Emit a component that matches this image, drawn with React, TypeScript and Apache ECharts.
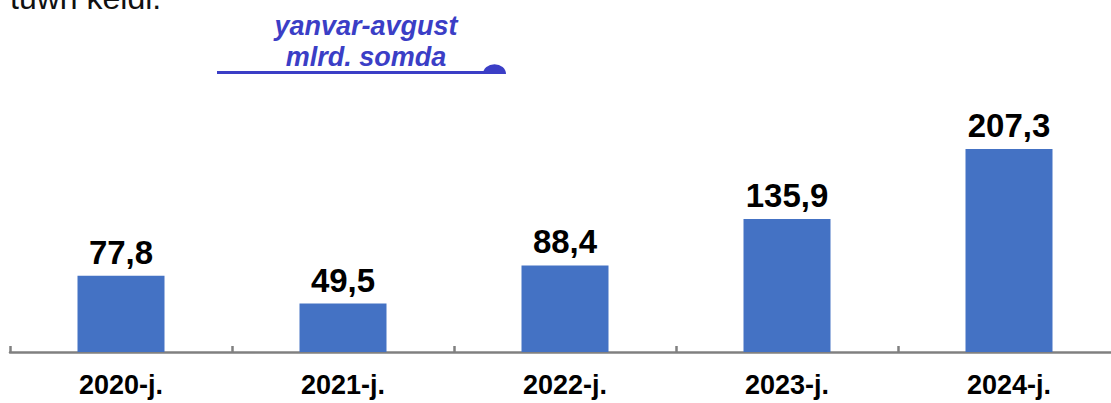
import React, { useEffect, useRef } from "react";
import * as echarts from "echarts";

const categories = ["2020-j.", "2021-j.", "2022-j.", "2023-j.", "2024-j."];
const values = [77.8, 49.5, 88.4, 135.9, 207.3];
const titleLines = ["yanvar-avgust", "mlrd. somda"];
const topText = "tuwn keldi.";

const FONT = "'Liberation Sans', Arial, sans-serif";
const BLUE = "#3b3ec6";

export default function App() {
  const ref = useRef<HTMLDivElement>(null);
  useEffect(() => {
    if (!ref.current) return;
    const chart = echarts.init(ref.current, undefined, { renderer: "svg" });
    chart.setOption({
      animation: false,
      backgroundColor: "#ffffff",
      grid: { left: 10, right: 0, top: 117, bottom: 51, containLabel: false },
      xAxis: {
        type: "category",
        data: categories,
        axisLine: { show: true, lineStyle: { color: "#808080", width: 2.5 } },
        axisTick: { show: true, inside: true, length: 6, lineStyle: { color: "#808080", width: 2.5 } },
        axisLabel: {
          color: "#000000",
          fontFamily: FONT,
          fontWeight: "bold",
          fontSize: 27,
          margin: 19,
        },
      },
      yAxis: { type: "value", min: 0, max: 240, show: false, splitLine: { show: false } },
      series: [
        {
          type: "bar",
          data: values,
          barWidth: 87,
          itemStyle: { color: "#4472c4" },
          label: {
            show: true,
            position: "top",
            distance: 7,
            color: "#000000",
            fontFamily: FONT,
            fontWeight: "bold",
            fontSize: 33,
            formatter: (p: any) => String(p.value).replace(".", ","),
          },
        },
      ],
      graphic: [
        {
          type: "text",
          x: 10,
          y: -2,
          style: {
            text: topText,
            fill: "#111111",
            font: `32px ${FONT}`,
            verticalAlign: "middle",
          },
        },
        {
          type: "text",
          x: 366,
          y: 26,
          style: {
            text: titleLines[0],
            fill: BLUE,
            font: `italic bold 27px ${FONT}`,
            align: "center",
            verticalAlign: "middle",
          },
        },
        {
          type: "text",
          x: 366,
          y: 57,
          style: {
            text: titleLines[1],
            fill: BLUE,
            font: `italic bold 27px ${FONT}`,
            align: "center",
            verticalAlign: "middle",
          },
        },
        {
          type: "line",
          shape: { x1: 217, y1: 72.5, x2: 492, y2: 72.5 },
          style: { stroke: BLUE, lineWidth: 3 },
        },
        {
          type: "sector",
          shape: { cx: 494.5, cy: 74, r: 11.5, r0: 0, startAngle: Math.PI, endAngle: 2 * Math.PI, clockwise: true },
          scaleY: 0.85,
          originX: 494.5,
          originY: 74,
          style: { fill: BLUE },
        },
      ],
    });
    return () => chart.dispose();
  }, []);
  return (
    <div style={{ position: "fixed", left: 0, top: 0, width: 1111, height: 403, overflow: "hidden" }}>
      <div ref={ref} style={{ position: "absolute", left: 0, top: 0, width: 1120, height: 403 }} />
    </div>
  );
}
